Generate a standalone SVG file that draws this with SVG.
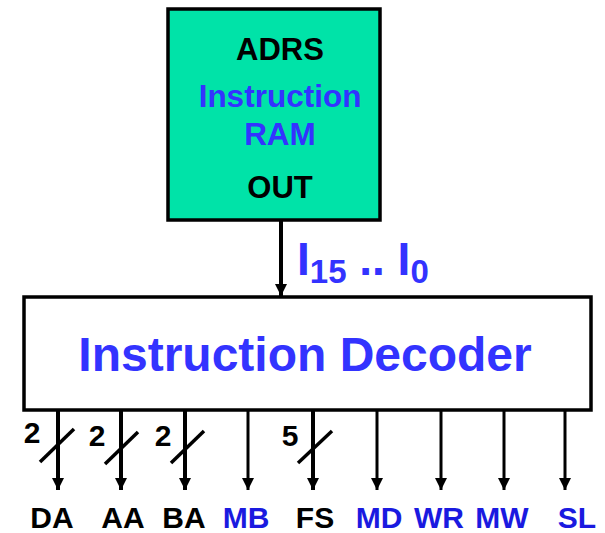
<svg xmlns="http://www.w3.org/2000/svg" width="605" height="533" viewBox="0 0 605 533">
<defs>
<style>
text{font-family:"Liberation Sans",Arial,sans-serif;font-weight:bold}
.c{text-anchor:middle}
.k{fill:#000}
.b{fill:#3333FF}
.d{fill:#1A1AE0}
.lbl{font-size:30px}
.num{font-size:30px}
.w{stroke:#000;fill:none}
</style>
<marker id="ah" viewBox="0 0 12 12" refX="12" refY="6" markerWidth="13" markerHeight="12" markerUnits="userSpaceOnUse" orient="auto">
<path d="M0,0 L12,6 L0,12 z" fill="#000"/>
</marker>
</defs>
<rect width="605" height="533" fill="#fff"/>
<g id="ram">
<rect x="168" y="9" width="212" height="211" fill="#00E3A8" stroke="#000" stroke-width="3.5"/>
<text x="280" y="60" class="k c" font-size="31">ADRS</text>
<text x="280" y="107" class="b c" font-size="31.5">Instruction</text>
<text x="280" y="145" class="b c" font-size="31.5">RAM</text>
<text x="280" y="198" class="k c" font-size="31">OUT</text>
</g>
<g id="decoder">
<rect x="24" y="297" width="567" height="113" fill="#fff" stroke="#000" stroke-width="3.5"/>
<text x="305" y="371" class="b c" font-size="48">Instruction Decoder</text>
</g>
<g id="connectors">
<line x1="281" y1="221" x2="281" y2="296" class="w" stroke-width="4" marker-end="url(#ah)"/>
<line x1="58" y1="411" x2="58" y2="490" class="w" stroke-width="4" marker-end="url(#ah)"/>
<line x1="121" y1="411" x2="121" y2="490" class="w" stroke-width="4" marker-end="url(#ah)"/>
<line x1="185" y1="411" x2="185" y2="490" class="w" stroke-width="4" marker-end="url(#ah)"/>
<line x1="248" y1="411" x2="248" y2="490" class="w" stroke-width="3" marker-end="url(#ah)"/>
<line x1="313" y1="411" x2="313" y2="490" class="w" stroke-width="4" marker-end="url(#ah)"/>
<line x1="377" y1="411" x2="377" y2="490" class="w" stroke-width="3" marker-end="url(#ah)"/>
<line x1="441" y1="411" x2="441" y2="490" class="w" stroke-width="3" marker-end="url(#ah)"/>
<line x1="504" y1="411" x2="504" y2="490" class="w" stroke-width="3" marker-end="url(#ah)"/>
<line x1="565" y1="411" x2="565" y2="490" class="w" stroke-width="3" marker-end="url(#ah)"/>
<line x1="40" y1="462" x2="74" y2="429" class="w" stroke-width="3.5"/>
<line x1="105" y1="464" x2="138" y2="432" class="w" stroke-width="3.5"/>
<line x1="171" y1="463" x2="204" y2="431" class="w" stroke-width="3.5"/>
<line x1="298" y1="463" x2="332" y2="431" class="w" stroke-width="3.5"/>
</g>
<g id="bus-label">
<text x="297" y="275" class="b" font-size="46">I<tspan font-size="33" dy="8">15</tspan><tspan dy="-8"> .. I</tspan><tspan font-size="33" dy="8">0</tspan></text>
</g>
<g id="widths">
<text x="32" y="443" class="k num c">2</text>
<text x="97" y="446" class="k num c">2</text>
<text x="163" y="446" class="k num c">2</text>
<text x="290" y="446" class="k num c">5</text>
</g>
<g id="outputs">
<text x="52" y="528" class="k lbl c">DA</text>
<text x="123" y="528" class="k lbl c">AA</text>
<text x="184" y="528" class="k lbl c">BA</text>
<text x="246" y="528" class="d lbl c">MB</text>
<text x="315" y="528" class="k lbl c">FS</text>
<text x="379" y="528" class="d lbl c">MD</text>
<text x="439" y="528" class="d lbl c">WR</text>
<text x="502" y="528" class="d lbl c">MW</text>
<text x="577" y="528" class="d lbl c">SL</text>
</g>
</svg>
